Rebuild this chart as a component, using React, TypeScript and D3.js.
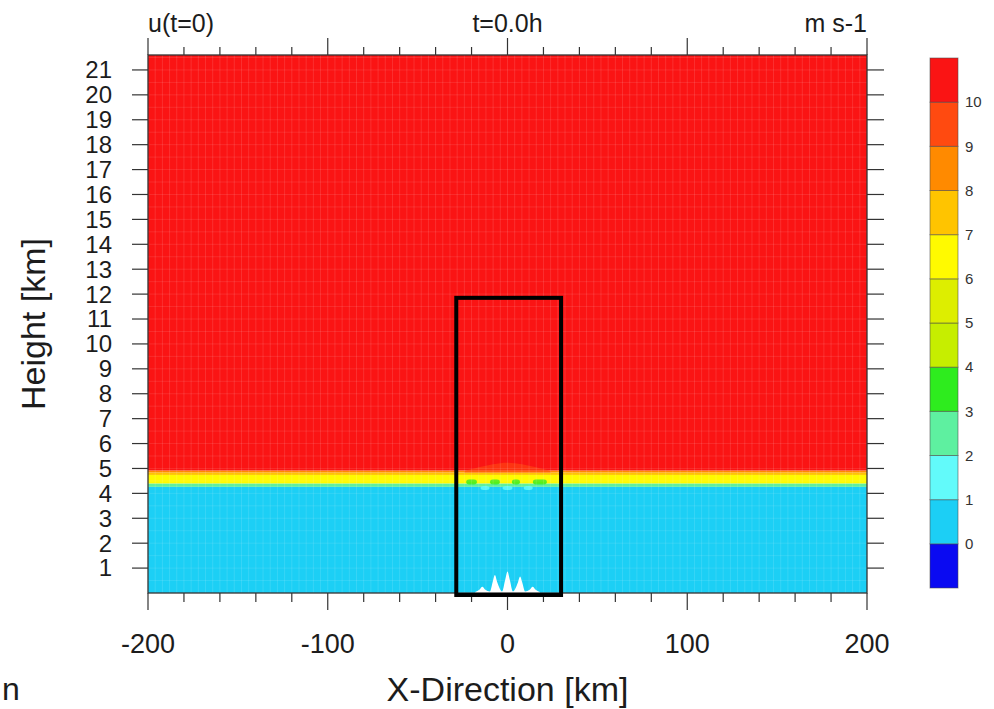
import React from "react";
import * as d3 from "d3";

// Contour levels of u (m s-1) and the fill colour of each bin (below 0 ... above 10)
const levels = [0, 1, 2, 3, 4, 5, 6, 7, 8, 9, 10];
const binColors = [
  "#0A0AF2", "#1CCFF5", "#62FAFA", "#5EF0A0", "#2EEC1E", "#C6EE00",
  "#DDEE00", "#FFFA00", "#FFC400", "#FF8A00", "#FF4A10", "#FA1414",
];

// Horizontally uniform initial wind profile: layer bottoms/tops (km) and u (m s-1)
const layerBottom = [0, 4.26, 4.4, 4.74, 4.84, 4.92];
const layerTop = [4.26, 4.4, 4.74, 4.84, 4.92, 21.6];
const layerU = [0.6, 2.5, 6.5, 7.5, 8.5, 11];

// Disturbance of the inversion above the ridge
const bumpX = [-24, -16, -8, 0, 8, 16, 24];
const bumpZ = [4.9, 5.05, 5.18, 5.26, 5.18, 5.05, 4.9];
const greenX = [-20, -7, 4.7, 18];
const greenW = [6, 5.5, 4.5, 7.8];
const greenU = [3.5, 3.5, 3.5, 3.5];
const lightX = [-12.5, 0, 11.5];
const lightW = [5, 5.5, 5];
const lightU = [1.5, 1.5, 1.5];

// Terrain (km): masked cells at the bottom of the domain
const terrainX = [-18, -15.5, -14, -12.5, -9.8, -8.2, -7, -5.8, -3, -1.3, 0, 1.3, 3, 5.8, 7, 8.2, 9.8, 12.5, 14, 15.5, 18];
const terrainZ = [0.04, 0.14, 0.25, 0.14, 0.06, 0.45, 0.72, 0.45, 0.06, 0.52, 0.86, 0.52, 0.06, 0.42, 0.66, 0.42, 0.06, 0.14, 0.25, 0.14, 0.04];

// Analysis box (km)
const boxX = [-28.5, 29.8];
const boxZ = [-0.08, 11.85];

// Axes
const xMajorTicks = [-200, -100, 0, 100, 200];
const xMinorTicks = d3.range(-200, 201, 20);
const yTicks = d3.range(1, 22);

const W = 994;
const H = 709;
const FONT = "'Liberation Sans', Arial, Helvetica, sans-serif";
const INK = "#1c1c1c";

export default function App() {
  const x = d3.scaleLinear().domain([-200, 200]).range([148, 867]);
  const y = d3.scaleLinear().domain([0, 21.6]).range([593, 55]);
  const color = d3.scaleThreshold<number, string>().domain(levels).range(binColors);
  const cb = d3.scaleLinear().domain([0, binColors.length]).range([588, 58]);

  const [x0, x1] = x.range();
  const [yb, yt] = y.range();

  const gridX = d3.range(-200, 200, 4);
  const gridZ = d3.range(0, 21.6, 0.5);

  const bumpArea = d3
    .area<number>()
    .x((_, i) => x(bumpX[i]))
    .y0(() => y(4.84))
    .y1((_, i) => y(bumpZ[i]))
    .curve(d3.curveBasis);

  const terrainArea = d3
    .area<number>()
    .x((_, i) => x(terrainX[i]))
    .y0(() => y(0))
    .y1((_, i) => y(terrainZ[i]))
    .curve(d3.curveMonotoneX);

  return (
    <svg
      width={W}
      height={H}
      viewBox={`0 0 ${W} ${H}`}
      style={{ position: "absolute", left: 0, top: 0, background: "#fff" }}
    >
      <defs>
        <clipPath id="plotClip">
          <rect x={x0} y={yt} width={x1 - x0} height={yb - yt} />
        </clipPath>
      </defs>

      <g clipPath="url(#plotClip)">
        {/* background profile */}
        {layerU.map((u, i) => (
          <rect
            key={`layer${i}`}
            x={x0}
            width={x1 - x0}
            y={y(layerTop[i])}
            height={y(layerBottom[i]) - y(layerTop[i])}
            fill={color(u)}
          />
        ))}

        {/* disturbance over the ridge */}
        <path d={bumpArea(bumpX) || ""} fill={color(9.5)} opacity={0.6} />
        {greenX.map((gx, i) => (
          <rect
            key={`g${i}`}
            x={x(gx - greenW[i] / 2)}
            width={x(gx + greenW[i] / 2) - x(gx - greenW[i] / 2)}
            y={y(4.56)}
            height={y(4.36) - y(4.56)}
            fill={color(greenU[i])}
            opacity={0.8}
            rx={3}
          />
        ))}
        {lightX.map((lx, i) => (
          <rect
            key={`l${i}`}
            x={x(lx - lightW[i] / 2)}
            width={x(lx + lightW[i] / 2) - x(lx - lightW[i] / 2)}
            y={y(4.3)}
            height={y(4.14) - y(4.3)}
            fill={color(lightU[i])}
            opacity={0.85}
            rx={3}
          />
        ))}

        {/* cell grid texture */}
        {gridX.map((g) => (
          <line
            key={`vx${g}`}
            x1={x(g)}
            x2={x(g)}
            y1={yt}
            y2={yb}
            stroke="#fff"
            strokeOpacity={0.12}
            strokeWidth={1}
          />
        ))}
        {gridZ.map((g) => (
          <line
            key={`hz${g}`}
            x1={x0}
            x2={x1}
            y1={y(g)}
            y2={y(g)}
            stroke="#fff"
            strokeOpacity={0.1}
            strokeWidth={1}
          />
        ))}

        {/* terrain */}
        <path d={terrainArea(terrainX) || ""} fill="#fff" />
      </g>

      {/* frame */}
      <rect x={x0} y={yt} width={x1 - x0} height={yb - yt} fill="none" stroke="#333" strokeWidth={1.3} />

      {/* x ticks (top & bottom, outward) */}
      {xMinorTicks.map((t) => {
        const major = xMajorTicks.includes(t);
        return (
          <g key={`xt${t}`} stroke="#333" strokeWidth={1.2}>
            <line x1={x(t)} x2={x(t)} y1={yb} y2={yb + (major ? 17 : 9)} />
            <line x1={x(t)} x2={x(t)} y1={yt} y2={yt - (major ? 17 : 8)} />
          </g>
        );
      })}
      {xMajorTicks.map((t) => (
        <text
          key={`xl${t}`}
          x={x(t)}
          y={653}
          textAnchor="middle"
          fontFamily={FONT}
          fontSize={27}
          fill={INK}
        >
          {t}
        </text>
      ))}

      {/* y ticks (left & right, outward) */}
      {yTicks.map((t) => (
        <g key={`yt${t}`}>
          <line x1={x0 - 16} x2={x0} y1={y(t)} y2={y(t)} stroke="#333" strokeWidth={1.2} />
          <line x1={x1} x2={x1 + 17} y1={y(t)} y2={y(t)} stroke="#333" strokeWidth={1.2} />
          <text
            x={112}
            y={y(t)}
            dy="0.35em"
            textAnchor="end"
            fontFamily={FONT}
            fontSize={24}
            fill={INK}
          >
            {t}
          </text>
        </g>
      ))}

      {/* analysis box */}
      <rect
        x={x(boxX[0])}
        y={y(boxZ[1])}
        width={x(boxX[1]) - x(boxX[0])}
        height={y(boxZ[0]) - y(boxZ[1])}
        fill="none"
        stroke="#000"
        strokeWidth={4}
      />

      {/* header strings */}
      <text x={x0} y={32} fontFamily={FONT} fontSize={25} fill={INK}>
        u(t=0)
      </text>
      <text x={(x0 + x1) / 2} y={32} textAnchor="middle" fontFamily={FONT} fontSize={25} fill={INK}>
        t=0.0h
      </text>
      <text x={x1} y={32} textAnchor="end" fontFamily={FONT} fontSize={25} fill={INK}>
        m s-1
      </text>

      {/* axis titles */}
      <text
        x={(x0 + x1) / 2}
        y={701}
        textAnchor="middle"
        fontFamily={FONT}
        fontSize={34}
        fill={INK}
      >
        X-Direction [km]
      </text>
      <text
        transform={`translate(45, ${(yt + yb) / 2}) rotate(-90)`}
        textAnchor="middle"
        fontFamily={FONT}
        fontSize={34}
        fill={INK}
      >
        Height [km]
      </text>
      <text x={2} y={700} fontFamily={FONT} fontSize={32} fill={INK}>
        n
      </text>

      {/* colour bar */}
      {binColors.map((c, i) => (
        <rect
          key={`cb${i}`}
          x={930}
          width={28}
          y={cb(i + 1)}
          height={cb(i) - cb(i + 1)}
          fill={c}
          stroke="#4a4a4a"
          strokeOpacity={0.55}
          strokeWidth={1}
        />
      ))}
      {levels.map((lv, i) => (
        <text
          key={`cbl${lv}`}
          x={965}
          y={cb(i + 1)}
          dy="0.35em"
          fontFamily={FONT}
          fontSize={15}
          fill="#333"
        >
          {lv}
        </text>
      ))}
    </svg>
  );
}
